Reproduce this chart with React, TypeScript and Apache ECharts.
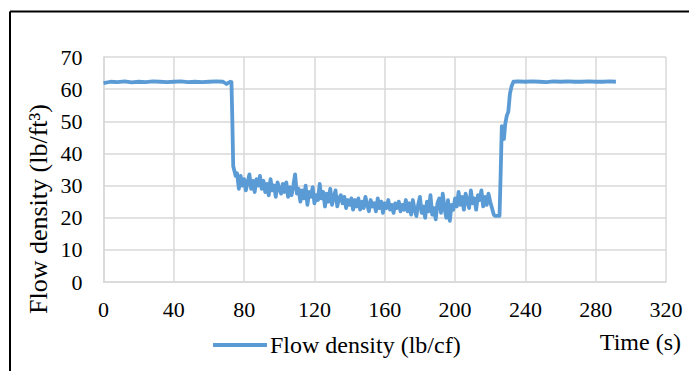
import React, { useEffect, useRef } from "react";
import * as echarts from "echarts";

// Flat segment before the drop (time s, density)
const startTimes = [0, 4, 8, 12, 16, 20, 24, 28, 32, 36, 40, 44, 48, 52, 56, 60, 64, 68, 70, 72, 72.8];
const startValues = [61.9, 62.3, 62.2, 62.4, 62.1, 62.3, 62.2, 62.4, 62.3, 62.2, 62.3, 62.4, 62.2, 62.3, 62.2, 62.3, 62.4, 62.3, 61.6, 62.3, 62.2];

// Drop
const dropTimes = [73.3, 73.8, 74.5, 75.2, 76];
const dropValues = [50, 36, 34.5, 33, 33.8];

// Noisy section, 1 s sampling starting at 77 s
const noiseStart = 77;
const noiseValues = [
  29, 33, 30, 32, 28.5, 31, 33.5, 29, 31.5, 28, 32, 30, 33, 29,
  31.5, 28, 30.5, 27, 32, 28.5, 30, 26.5, 31, 29, 27.5, 30.5, 28, 31, 26.5, 29.5, 27, 30, 33.5, 27.5,
  29, 25, 28.5, 26, 30, 24, 28, 26.5, 29.5, 24.5, 27, 25.5, 30.5, 26, 28, 23.5, 27.5, 25, 29, 24, 26.5, 28.5, 23.5, 26, 27, 24.5, 26.5, 23, 25.5,
  24, 26, 22.5, 25.5, 23.5, 26, 22.5, 25, 23, 26.5, 24, 22, 25.5, 23.5, 24.5, 22, 26, 23, 25, 21.5, 24.5, 23, 25.5, 22.5, 24, 21.5, 24.5, 23, 25, 22, 24, 22.5, 25.5, 22,
  24.5, 21, 25.5, 22.5, 20.5, 24, 26.5, 21.5, 23.5, 20, 25, 22, 27, 21, 23, 19.5, 24.5, 26, 21.5, 27.5, 23, 20, 25.5, 19, 24, 22.5,
  26, 23.5, 28, 24, 26.5, 22.5, 27.5, 25, 23, 28.5, 24.5, 26, 22.5, 27, 25.5, 28.5, 23.5, 26.5, 24, 27.5, 25, 23,
];

// Low plateau and rise
const riseTimes = [222, 222.5, 225.3, 226, 226.6, 227.2, 227.8, 228.5, 229.4, 230.3, 231.2, 232.2, 233.2];
const riseValues = [21, 20.6, 20.6, 35, 48.5, 47, 44.5, 49, 51.7, 53, 58.5, 61, 62.3];

// Flat segment after the rise
const endTimes = [236, 240, 244, 248, 252, 256, 260, 264, 268, 272, 276, 280, 284, 288, 291.5];
const endValues = [62.4, 62.3, 62.4, 62.3, 62.2, 62.4, 62.3, 62.4, 62.3, 62.3, 62.4, 62.3, 62.3, 62.4, 62.3];

const xTicks = { min: 0, max: 320, interval: 40 };
const yTicks = { min: 0, max: 70, interval: 10 };

const FONT = '"Liberation Serif", "Times New Roman", serif';

export default function App() {
  const ref = useRef<HTMLDivElement>(null);
  useEffect(() => {
    if (!ref.current) return;
    const chart = echarts.init(ref.current, null, { renderer: "svg" });
    const data: number[][] = [];
    startTimes.forEach((t, i) => data.push([t, startValues[i]]));
    dropTimes.forEach((t, i) => data.push([t, dropValues[i]]));
    noiseValues.forEach((v, i) => data.push([noiseStart + i, v]));
    riseTimes.forEach((t, i) => data.push([t, riseValues[i]]));
    endTimes.forEach((t, i) => data.push([t, endValues[i]]));

    chart.setOption({
      animation: false,
      backgroundColor: "#ffffff",
      grid: { left: 103.5, top: 57, right: 23, bottom: 89, containLabel: false },
      xAxis: {
        type: "value",
        min: xTicks.min,
        max: xTicks.max,
        interval: xTicks.interval,
        axisLine: { show: true, lineStyle: { color: "#d9d9d9", width: 1.5 } },
        axisTick: { show: false },
        splitLine: { show: true, lineStyle: { color: "#d9d9d9", width: 1.5 } },
        axisLabel: { color: "#000", fontFamily: FONT, fontSize: 22, margin: 16 },
      },
      yAxis: {
        type: "value",
        min: yTicks.min,
        max: yTicks.max,
        interval: yTicks.interval,
        axisLine: { show: true, lineStyle: { color: "#d9d9d9", width: 1.5 } },
        axisTick: { show: false },
        splitLine: { show: true, lineStyle: { color: "#d9d9d9", width: 1.5 } },
        axisLabel: { color: "#000", fontFamily: FONT, fontSize: 22, margin: 21 },
      },
      legend: {
        left: 213,
        top: 333,
        padding: 0,
        itemWidth: 54,
        itemHeight: 4,
        itemGap: 4,
        icon: "rect",
        textStyle: { color: "#000", fontFamily: FONT, fontSize: 24, padding: [0, 0, 0, -2] },
        data: ["Flow density (lb/cf)"],
      },
      series: [
        {
          name: "Flow density (lb/cf)",
          type: "line",
          data,
          showSymbol: false,
          symbol: "none",
          lineStyle: { color: "#5B9BD5", width: 3.8, join: "round" },
          itemStyle: { color: "#5B9BD5" },
        },
      ],
      graphic: [
        {
          type: "line",
          shape: { x1: 10, y1: 11.5, x2: 689, y2: 11.5 },
          style: { stroke: "#000", lineWidth: 2 },
        },
        {
          type: "line",
          shape: { x1: 10, y1: 11.5, x2: 10, y2: 371 },
          style: { stroke: "#000", lineWidth: 2 },
        },
        {
          type: "text",
          x: 38,
          y: 209,
          rotation: Math.PI / 2,
          style: {
            text: "Flow density (lb/ft³)",
            fontFamily: FONT,
            fontSize: 26,
            fill: "#000",
            align: "center",
            verticalAlign: "middle",
          },
        },
        {
          type: "text",
          x: 681,
          y: 342,
          style: {
            text: "Time (s)",
            fontFamily: FONT,
            fontSize: 24,
            fill: "#000",
            align: "right",
            verticalAlign: "middle",
          },
        },
      ],
    });
    return () => chart.dispose();
  }, []);
  return (
    <div
      ref={ref}
      style={{ position: "fixed", left: 0, top: 0, width: 689, height: 371 }}
    />
  );
}
